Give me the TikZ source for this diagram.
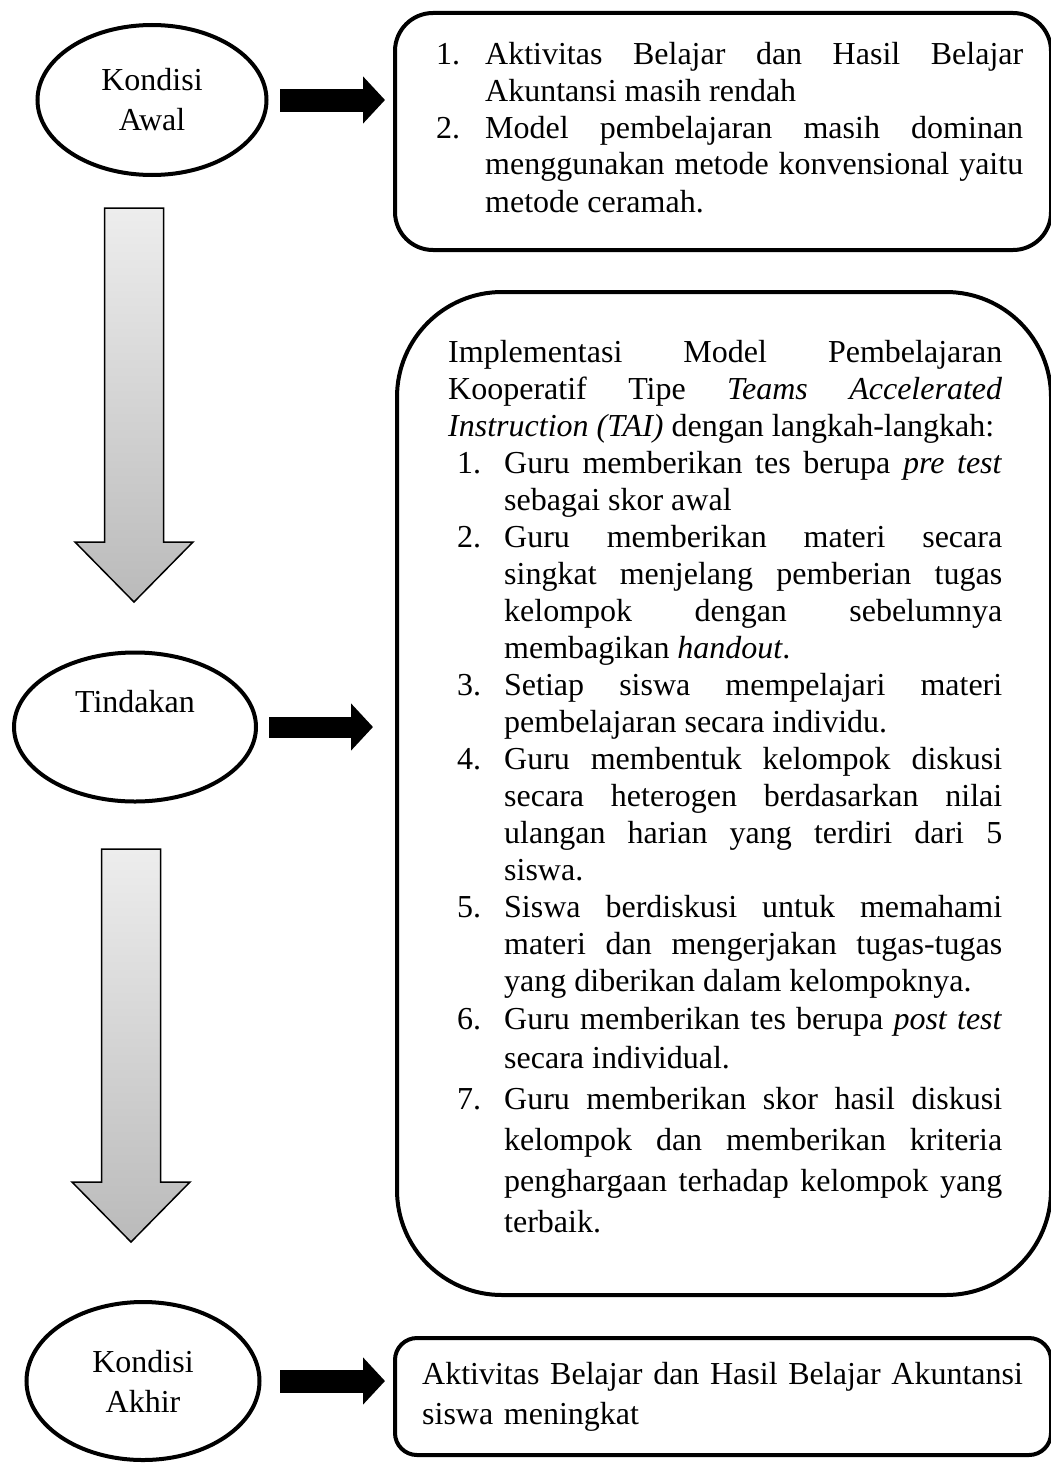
\documentclass[tikz,border=0pt]{standalone}
\usepackage{fontspec}
\setmainfont{Liberation Serif}
\usetikzlibrary{shapes.geometric,arrows.meta,calc}

\hyphenpenalty=10000
\exhyphenpenalty=10000
\tolerance=10000
\hbadness=10000
\frenchspacing

% nomor urut dengan indentasi gantung
\newcommand{\nomor}[3]{\leftskip=#1\noindent\hangindent=#2\hangafter=1\makebox[#2][l]{#3}\ignorespaces}
% panah abu-abu ke bawah
\newcommand{\panahturun}[2]{%
  \path[abu] ($(#1)+(-29.5,0)$) -- ($(#1)+(29.5,0)$) -- ($(#2)+(29.5,-60)$)
    -- ($(#2)+(59,-60)$) -- (#2) -- ($(#2)+(-59,-60)$) -- ($(#2)+(-29.5,-60)$) -- cycle;}

\begin{document}
\begin{tikzpicture}[x=1pt,y=-1pt,font=\fontsize{32}{37}\selectfont]
\tikzstyle{kondisi}=[draw,ellipse,line width=4pt,inner sep=0pt,align=center,font=\fontsize{32}{40}\selectfont]
\tikzstyle{kotak}=[draw,rectangle,line width=4pt,anchor=north west,inner sep=0pt]
\tikzstyle{isi}=[anchor=base west,inner sep=0pt,align=justify]
\tikzstyle{panah}=[line width=23pt,-{Triangle[width=46pt,length=22pt]}]
\tikzstyle{abu}=[draw=black,line width=1.5pt,top color=black!7,bottom color=black!27,line join=miter]

\useasboundingbox (0,0) rectangle (1051,1464);

% elips kondisi
\node[kondisi,minimum width=229pt,minimum height=150pt] (awal) at (152,100) {Kondisi\\Awal};
\node[kondisi,minimum width=242pt,minimum height=149pt] (tindakan) at (135,727) {Tindakan\\\strut};
\node[kondisi,minimum width=233pt,minimum height=158pt] (akhir) at (143,1381) {Kondisi\\Akhir};

% kotak
\node[kotak,minimum width=656pt,minimum height=237pt,rounded corners=38pt] (kotak1) at (393,11) {};
\node[kotak,minimum width=654pt,minimum height=1003pt,rounded corners=105pt] (kotak2) at (395,290) {};
\node[kotak,minimum width=656pt,minimum height=117pt,rounded corners=22pt] (kotak3) at (393,1336) {};

\node[isi,text width=587pt] (teks1) at (436,64) {%
\nomor{0pt}{49pt}{1.}Aktivitas Belajar dan Hasil Belajar \linebreak Akuntansi masih rendah
\par\nomor{0pt}{49pt}{2.}Model pembelajaran masih dominan \linebreak menggunakan metode konvensional yaitu \linebreak metode ceramah.\par};

\node[isi,text width=554pt] (teks2) at (448,362) {%
Implementasi Model Pembelajaran \linebreak Kooperatif Tipe \textit{Teams Accelerated} \linebreak \textit{Instruction (TAI)} dengan langkah-langkah:
\par\nomor{9pt}{47pt}{1.}Guru memberikan tes berupa \textit{pre test} \linebreak sebagai skor awal
\par\nomor{9pt}{47pt}{2.}Guru memberikan materi secara \linebreak singkat menjelang pemberian tugas \linebreak kelompok dengan sebelumnya \linebreak membagikan \textit{handout}.
\par\nomor{9pt}{47pt}{3.}Setiap siswa mempelajari materi \linebreak pembelajaran secara individu.
\par\nomor{9pt}{47pt}{4.}Guru membentuk kelompok diskusi \linebreak secara heterogen berdasarkan nilai \linebreak ulangan harian yang terdiri dari 5 \linebreak siswa.
\par\nomor{9pt}{47pt}{5.}Siswa berdiskusi untuk memahami \linebreak materi dan mengerjakan tugas-tugas \linebreak yang diberikan dalam kelompoknya.
\par\nomor{9pt}{47pt}{6.}\baselineskip=38.5pt Guru memberikan tes berupa \textit{post test} \linebreak secara individual.
\par\nomor{9pt}{47pt}{7.}\baselineskip=41pt Guru memberikan skor hasil diskusi \linebreak kelompok dan memberikan kriteria \linebreak penghargaan terhadap kelompok yang \linebreak terbaik.\par};

\node[anchor=base west,inner sep=0pt,align=left,text width=620pt,font=\fontsize{32}{40}\selectfont] (teks3) at (422,1384)
  {Aktivitas Belajar dan Hasil Belajar Akuntansi\par siswa meningkat};

% panah hitam
\draw[panah,shorten <=11.5pt,shorten >=8pt] (awal.east) -- (awal.east -| kotak1.west);
\draw[panah,line width=21pt,shorten <=11pt,shorten >=22pt] (tindakan.east) -- (tindakan.east -| kotak2.west);
\draw[panah,shorten <=18.5pt,shorten >=8pt] (akhir.east) -- (akhir.east -| kotak3.west);

% panah abu-abu
\coordinate (a1) at (134,208);
\coordinate (b1) at (134,602);
\coordinate (a2) at (131,849);
\coordinate (b2) at (131,1242);
\panahturun{a1}{b1}
\panahturun{a2}{b2}
\end{tikzpicture}
\end{document}
